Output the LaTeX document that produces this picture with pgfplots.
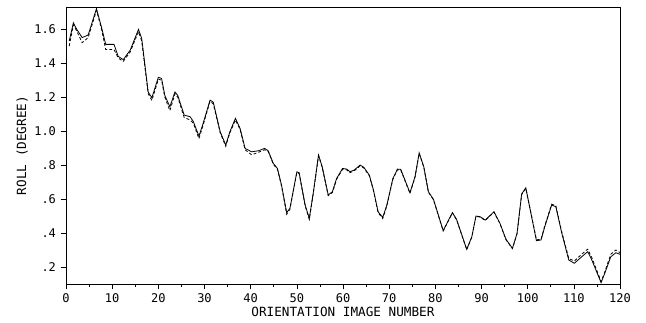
\documentclass[border=0pt]{standalone}
\usepackage{fontspec}
\setmainfont{DejaVu Sans Mono}
\usepackage{pgfplots}
\pgfplotsset{compat=1.18}
\begin{document}
\begin{tikzpicture}
\begin{axis}[
  scale only axis,
  width=415.5pt, height=207.75pt,
  xmin=0, xmax=120, ymin=0.1, ymax=1.73,
  axis line style={black, line width=0.5pt},
  xtick={0,10,...,120},
  xticklabels={0,10,20,30,40,50,60,70,80,90,100,110,120},
  minor x tick num=1,
  ytick={0.2,0.4,0.6,0.8,1.0,1.2,1.4,1.6},
  yticklabels={.2,.4,.6,.8,1.0,1.2,1.4,1.6},
  tick align=outside,
  tick pos=left,
  major tick length=4pt,
  minor tick length=2pt,
  tick style={black, line width=0.5pt},
  /pgf/number format/assume math mode=true,
  ticklabel style={font=\fontsize{9}{10}\selectfont},
  xlabel={ORIENTATION IMAGE NUMBER},
  ylabel={ROLL (DEGREE)},
  label style={font=\fontsize{9.5}{11}\selectfont},
  xlabel style={yshift=4pt},
  ylabel style={yshift=-2pt},
]
\addplot[black, line width=0.6pt] coordinates {
(0.7,1.53) (1.6,1.637) (2.3,1.60) (3.5,1.55) (4.8,1.565) (6.6,1.72) (7.7,1.61)
(8.6,1.51) (10.4,1.51) (11.3,1.44) (12.4,1.42) (13.9,1.476) (15.7,1.598) (16.4,1.545)
(17.8,1.23) (18.6,1.196) (20,1.316) (20.7,1.31) (21.4,1.21) (22.5,1.143) (23.6,1.23)
(24.2,1.21) (25.6,1.094) (26.9,1.084) (27.6,1.055) (28.8,0.97) (29.7,1.045) (31.2,1.182)
(31.9,1.17) (33.4,0.996) (34.6,0.918) (35.5,0.996) (36.7,1.075) (37.7,1.016) (38.8,0.898)
(40.2,0.878) (41.7,0.884) (43,0.898) (43.8,0.884) (44.9,0.81) (45.8,0.78) (46.7,0.68)
(47.8,0.52) (48.5,0.545) (50,0.76) (50.5,0.755) (51.8,0.565) (52.7,0.486) (53.6,0.643)
(54.7,0.859) (55.5,0.79) (56.8,0.624) (57.7,0.643) (58.6,0.72) (59.9,0.78) (60.8,0.776)
(61.5,0.761) (62.4,0.77) (63.7,0.80) (64.5,0.787) (65.7,0.741) (66.6,0.653) (67.6,0.525)
(68.6,0.492) (69.5,0.565) (70.8,0.72) (71.8,0.776) (72.5,0.775) (74.5,0.637) (75.6,0.731)
(76.5,0.872) (77.5,0.79) (78.5,0.643) (79.6,0.598) (81.7,0.414) (83.7,0.52) (84.6,0.48)
(86.8,0.304) (87.9,0.378) (88.8,0.50) (89.7,0.496) (90.8,0.476) (92.7,0.525) (94,0.457)
(95.3,0.363) (96.7,0.31) (97.7,0.398) (98.7,0.63) (99.6,0.666) (100.7,0.516) (101.9,0.355)
(102.9,0.359) (103.7,0.437) (105.2,0.565) (106.1,0.555) (107.4,0.398) (108.9,0.241)
(110.1,0.222) (111.7,0.26) (113,0.29) (113.9,0.241) (115.9,0.108) (116.7,0.163)
(118,0.26) (119.1,0.284) (120,0.275)
};
\addplot[black, line width=0.6pt, dash pattern=on 2.2pt off 1.6pt] coordinates {
(0.7,1.50) (1.6,1.625) (2.3,1.59) (3.5,1.52) (4.8,1.55) (6.6,1.71) (7.7,1.60)
(8.6,1.48) (10.4,1.48) (11.3,1.43) (12.4,1.41) (13.9,1.465) (15.7,1.585) (16.4,1.53)
(17.8,1.22) (18.6,1.18) (20,1.305) (20.7,1.30) (21.4,1.20) (22.5,1.12) (23.6,1.22)
(24.2,1.20) (25.6,1.08) (26.9,1.065) (27.6,1.045) (28.8,0.955) (29.7,1.035) (31.2,1.175)
(31.9,1.16) (33.4,0.99) (34.6,0.91) (35.5,0.99) (36.7,1.065) (37.7,1.01) (38.8,0.89)
(40.2,0.86) (41.7,0.875) (43,0.89) (43.8,0.88) (44.9,0.805) (45.8,0.775) (46.7,0.675)
(47.8,0.51) (48.5,0.54) (50,0.755) (50.5,0.75) (51.8,0.56) (52.7,0.48) (53.6,0.64)
(54.7,0.855) (55.5,0.785) (56.8,0.62) (57.7,0.638) (58.6,0.715) (59.9,0.775) (60.8,0.772)
(61.5,0.755) (62.4,0.765) (63.7,0.795) (64.5,0.783) (65.7,0.737) (66.6,0.65) (67.6,0.52)
(68.6,0.485) (69.5,0.56) (70.8,0.717) (71.8,0.772) (72.5,0.771) (74.5,0.634) (75.6,0.728)
(76.5,0.868) (77.5,0.787) (78.5,0.64) (79.6,0.595) (81.7,0.412) (83.7,0.518) (84.6,0.478)
(86.8,0.302) (87.9,0.376) (88.8,0.498) (89.7,0.494) (90.8,0.474) (92.7,0.523) (94,0.455)
(95.3,0.361) (96.7,0.308) (97.7,0.396) (98.7,0.627) (99.6,0.662) (100.7,0.52) (101.9,0.36)
(102.9,0.364) (103.7,0.442) (105.2,0.57) (106.1,0.56) (107.4,0.405) (108.9,0.25)
(110.1,0.235) (111.7,0.275) (113,0.305) (113.9,0.255) (115.9,0.115) (116.7,0.17)
(118,0.275) (119.1,0.30) (120,0.285)
};
\end{axis}
\pgfresetboundingbox
\path[use as bounding box] ([xshift=-49.5pt,yshift=-28.5pt]current axis.south west) rectangle ([xshift=19.5pt,yshift=5.25pt]current axis.north east);
\end{tikzpicture}
\end{document}
